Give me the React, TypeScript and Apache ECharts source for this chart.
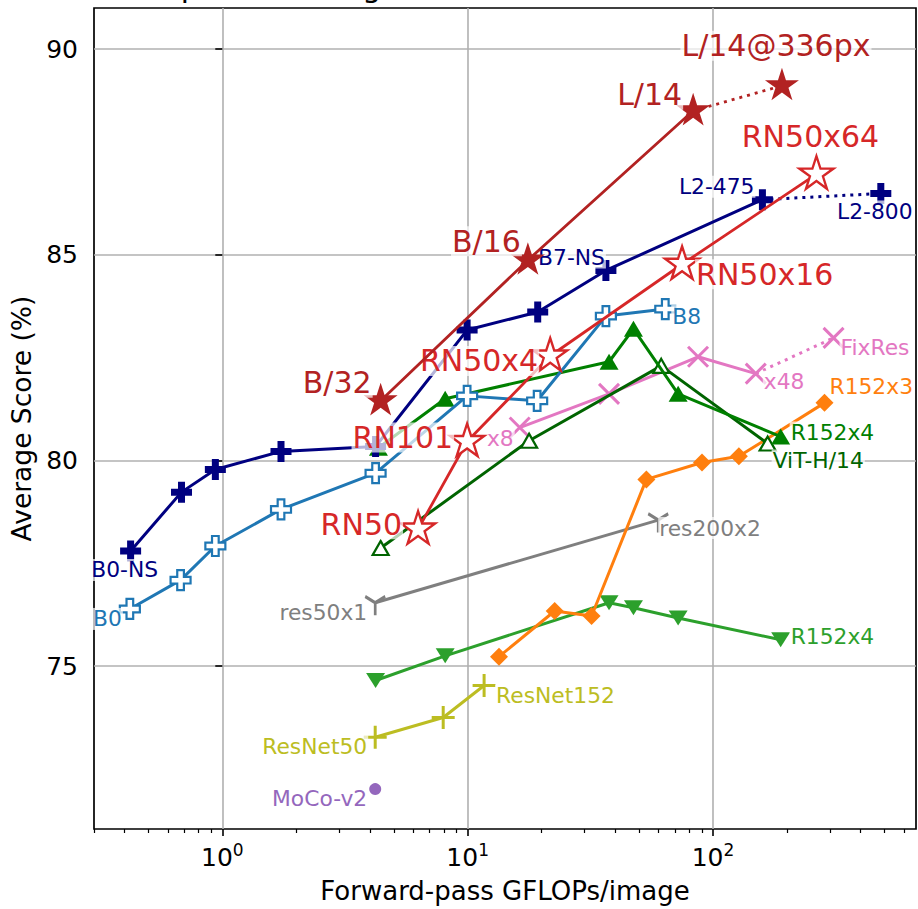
import React, { useEffect, useRef } from 'react';
import * as echarts from 'echarts';

const FONT = "'DejaVu Sans', 'Noto Sans', sans-serif";
const SMALL = 21.8;

// ---------------- data ----------------
// CLIP-ViT
const clipVitNames = ['B/32', 'B/16', 'L/14'];
const clipVitFlops = [4.42, 17.6, 83.0];
const clipVitScore = [81.45, 84.87, 88.5];
const clipVit336Names = ['L/14@336px'];
const clipVit336Flops = [191];
const clipVit336Score = [89.11];

// CLIP-ResNet
const clipRnNames = ['RN50', 'RN101', 'RN50x4', 'RN50x16', 'RN50x64'];
const clipRnFlops = [6.28, 9.95, 21.7, 74.8, 264];
const clipRnScore = [78.33, 80.46, 82.54, 84.77, 86.96];

// EfficientNet NoisyStudent
const effNsNames = ['B0-NS', '', '', '', '', '', '', 'B7-NS', 'L2-475'];
const effNsFlops = [0.423, 0.682, 0.937, 1.735, 4.215, 9.95, 19.3, 36.6, 159];
const effNsScore = [77.8, 79.23, 79.78, 80.22, 80.34, 83.17, 83.61, 84.62, 86.34];
const effNs800Names = ['L2-800'];
const effNs800Flops = [483];
const effNs800Score = [86.49];

// EfficientNet
const effNames = ['B0', '', '', '', '', '', '', '', 'B8'];
const effFlops = [0.42, 0.676, 0.937, 1.735, 4.215, 9.95, 19.2, 36.6, 63.9];
const effScore = [76.39, 77.09, 77.92, 78.81, 79.69, 81.57, 81.45, 83.51, 83.68];

// Instagram-pretrained
const igNames = ['x8', '', '', 'x48'];
const igFlops = [16.3, 37.7, 86.9, 149.4];
const igScore = [80.8, 81.62, 82.52, 82.11];
const fixResNames = ['FixRes'];
const fixResFlops = [310];
const fixResScore = [82.98];

// BiT-M
const bitMNames = ['', '', '', '', '', 'R152x4'];
const bitMFlops = [4.33, 8.1, 37.7, 47.4, 72.1, 188.7];
const bitMScore = [80.31, 81.5, 82.4, 83.2, 81.62, 80.58];

// ViT (ImageNet-21k)
const vitNames = ['', '', '', 'ViT-H/14'];
const vitFlops = [4.42, 17.8, 61.5, 167];
const vitScore = [77.87, 80.48, 82.3, 80.41];

// BiT-S
const bitSNames = ['', '', '', '', '', 'R152x4'];
const bitSFlops = [4.215, 8.1, 37.7, 47.4, 72.1, 188.7];
const bitSScore = [74.65, 75.25, 76.54, 76.42, 76.17, 75.64];

// SimCLRv2
const simclrNames = ['', '', '', '', '', '', 'R152x3'];
const simclrFlops = [13.42, 22.64, 32.0, 53.5, 90.2, 127.5, 284.7];
const simclrScore = [75.23, 76.34, 76.22, 79.54, 79.95, 80.1, 81.4];

// BYOL
const byolNames = ['res50x1', 'res200x2'];
const byolFlops = [4.2, 59.8];
const byolScore = [76.54, 78.55];

// ResNet
const resnetNames = ['ResNet50', '', 'ResNet152'];
const resnetFlops = [4.2, 7.95, 11.67];
const resnetScore = [73.27, 73.75, 74.53];

// MoCo
const mocoNames = ['MoCo-v2'];
const mocoFlops = [4.2];
const mocoScore = [72.01];

// axes
const xMin = 0.3;
const xMax = 672;
const yMin = 71.04;
const yMax = 91.0;
const xMajorTicks = [1, 10, 100];
const xMinorTicks = [0.3, 0.4, 0.5, 0.6, 0.7, 0.8, 0.9, 2, 3, 4, 5, 6, 7, 8, 9, 20, 30, 40, 50, 60, 70, 80, 90, 200, 300, 400, 500, 600];
const yTicks = [75, 80, 85, 90];
const titleText = 'Linear probe average over 12 datasets';

// ---------------- label placement (align, dx, dy) ----------------
const labelPos: Record<string, [string, number, number]> = {
  'clipvit:B/32': ['right', -8, -18],
  'clipvit:B/16': ['right', -6, -19],
  'clipvit:L/14': ['right', -10, -16],
  'clipvit336:L/14@336px': ['center', -6, -40],
  'cliprn:RN50': ['right', -15, -5],
  'cliprn:RN101': ['right', -13, -4],
  'cliprn:RN50x4': ['right', -11, 5],
  'cliprn:RN50x16': ['left', 13, 10],
  'cliprn:RN50x64': ['center', -6, -38],
  'effns:B0-NS': ['center', -6, 19],
  'effns:B7-NS': ['right', 0, -13],
  'effns:L2-475': ['right', -7, -13],
  'effns800:L2-800': ['center', -6, 18],
  'eff:B0': ['right', -7, 10],
  'eff:B8': ['left', 6, 7],
  'ig:x8': ['right', -5, 11],
  'ig:x48': ['left', 7, 8],
  'fixres:FixRes': ['left', 6, 10],
  'bitm:R152x4': ['left', 9, -4],
  'vit:ViT-H/14': ['left', 4, 17],
  'bits:R152x4': ['left', 9, -3],
  'simclr:R152x3': ['left', 4, -16],
  'byol:res50x1': ['right', -7, 10],
  'byol:res200x2': ['left', 0, 8],
  'resnet:ResNet50': ['right', -7, 9],
  'resnet:ResNet152': ['left', 11, 10],
  'moco:MoCo-v2': ['right', -7, 9],
};

// ---------------- marker shapes ----------------
const STAR = 'path://M0,100 M0,-100 L22.45,-30.9 L95.11,-30.9 L36.33,11.8 L58.78,80.9 L0,38.2 L-58.78,80.9 L-36.33,11.8 L-95.11,-30.9 L-22.45,-30.9 Z';
const PLUS_FILLED = 'path://M-1,-3 L1,-3 L1,-1 L3,-1 L3,1 L1,1 L1,3 L-1,3 L-1,1 L-3,1 L-3,-1 L-1,-1 Z';
const TRI_DOWN = 'path://M-1,-1 L1,-1 L0,1 Z';
const XMARK = 'path://M-1,-1 L1,1 M-1,1 L1,-1';
const PLUS = 'path://M0,-1 L0,1 M-1,0 L1,0';
const TRI_Y = 'path://M0,-1 M0,0 L0,1 M0,0 L0.8,-0.5 M0,0 L-0.8,-0.5';

interface Cfg {
  id: string;
  names: string[];
  xs: number[];
  ys: number[];
  color: string;
  textColor?: string;
  fontSize: number;
  symbol: string;
  symbolSize: number | number[];
  open?: boolean;
  strokeOnly?: boolean;
  markerWidth?: number;
  lineWidth?: number;
  dotted?: boolean;
  hideFirst?: boolean;
  z: number;
}

function buildSeries(c: Cfg) {
  const data = c.xs.map((x, i) => {
    const d: any = { value: [x, c.ys[i]] };
    if (c.hideFirst && i === 0) d.symbol = 'none';
    const nm = c.names[i];
    if (nm) {
      const p = labelPos[c.id + ':' + nm];
      d.label = {
        show: true,
        formatter: nm,
        position: 'inside',
        align: p[0],
        verticalAlign: 'middle',
        offset: [p[1], p[2]],
        color: c.textColor || c.color,
        fontSize: c.fontSize,
        fontFamily: FONT,
        backgroundColor: 'rgba(255,255,255,0.7)',
        padding: [0, 1],
        textBorderWidth: 0,
      };
    }
    return d;
  });
  let itemStyle: any;
  if (c.open) itemStyle = { color: '#ffffff', borderColor: c.color, borderWidth: c.markerWidth ?? 2.2 };
  else if (c.strokeOnly) itemStyle = { color: c.color, borderColor: c.color, borderWidth: c.markerWidth ?? 3 };
  else itemStyle = { color: c.color, borderWidth: 0 };
  return {
    type: 'line',
    id: c.id + (c.dotted ? '-dot' : ''),
    data,
    symbol: c.symbol,
    symbolSize: c.symbolSize,
    showAllSymbol: true,
    itemStyle,
    lineStyle: {
      color: c.color,
      width: c.lineWidth ?? 3,
      type: c.dotted ? [3, 5] : 'solid',
    },
    label: { show: false },
    emphasis: { disabled: true },
    silent: true,
    z: c.z,
    clip: true,
  };
}

const series = [
  buildSeries({ id: 'moco', names: mocoNames, xs: mocoFlops, ys: mocoScore, color: '#9467bd', fontSize: SMALL, symbol: 'circle', symbolSize: 12, z: 2 }),
  buildSeries({ id: 'resnet', names: resnetNames, xs: resnetFlops, ys: resnetScore, color: '#bcbd22', fontSize: SMALL, symbol: PLUS, symbolSize: 23, strokeOnly: true, z: 3 }),
  buildSeries({ id: 'byol', names: byolNames, xs: byolFlops, ys: byolScore, color: '#7f7f7f', fontSize: SMALL, symbol: TRI_Y, symbolSize: [20, 25], strokeOnly: true, z: 4 }),
  buildSeries({ id: 'bits', names: bitSNames, xs: bitSFlops, ys: bitSScore, color: '#2ca02c', fontSize: SMALL, symbol: TRI_DOWN, symbolSize: [19, 15], z: 5 }),
  buildSeries({ id: 'simclr', names: simclrNames, xs: simclrFlops, ys: simclrScore, color: '#ff7f0e', fontSize: SMALL, symbol: 'diamond', symbolSize: 18, z: 6 }),
  buildSeries({ id: 'ig', names: igNames, xs: igFlops, ys: igScore, color: '#e377c2', fontSize: SMALL, symbol: XMARK, symbolSize: 20, strokeOnly: true, z: 7 }),
  buildSeries({ id: 'fixres', names: ['', fixResNames[0]], xs: [igFlops[3], fixResFlops[0]], ys: [igScore[3], fixResScore[0]], color: '#e377c2', fontSize: SMALL, symbol: XMARK, symbolSize: 20, strokeOnly: true, dotted: true, hideFirst: true, z: 7 }),
  buildSeries({ id: 'vit', names: vitNames, xs: vitFlops, ys: vitScore, color: '#006400', fontSize: SMALL, symbol: 'triangle', symbolSize: [16, 14], open: true, z: 8 }),
  buildSeries({ id: 'bitm', names: bitMNames, xs: bitMFlops, ys: bitMScore, color: '#008000', fontSize: SMALL, symbol: 'triangle', symbolSize: [19, 16], z: 9 }),
  buildSeries({ id: 'eff', names: effNames, xs: effFlops, ys: effScore, color: '#1f77b4', fontSize: SMALL, symbol: PLUS_FILLED, symbolSize: 20, open: true, markerWidth: 2.2, z: 10 }),
  buildSeries({ id: 'effns', names: effNsNames, xs: effNsFlops, ys: effNsScore, color: '#000080', fontSize: SMALL, symbol: PLUS_FILLED, symbolSize: 21, z: 11 }),
  buildSeries({ id: 'effns800', names: ['', effNs800Names[0]], xs: [effNsFlops[8], effNs800Flops[0]], ys: [effNsScore[8], effNs800Score[0]], color: '#000080', fontSize: SMALL, symbol: PLUS_FILLED, symbolSize: 21, dotted: true, hideFirst: true, z: 11 }),
  buildSeries({ id: 'cliprn', names: clipRnNames, xs: clipRnFlops, ys: clipRnScore, color: '#d62728', fontSize: 30, symbol: STAR, symbolSize: [34, 36], open: true, markerWidth: 2.4, lineWidth: 2.8, z: 12 }),
  buildSeries({ id: 'clipvit', names: clipVitNames, xs: clipVitFlops, ys: clipVitScore, color: '#b22222', fontSize: 30, symbol: STAR, symbolSize: [34, 36], lineWidth: 2.8, z: 13 }),
  buildSeries({ id: 'clipvit336', names: ['', clipVit336Names[0]], xs: [clipVitFlops[2], clipVit336Flops[0]], ys: [clipVitScore[2], clipVit336Score[0]], color: '#b22222', fontSize: 30, symbol: STAR, symbolSize: [34, 36], lineWidth: 2.8, dotted: true, hideFirst: true, z: 13 }),
];

const gridColor = '#b0b0b0';

const option: any = {
  animation: false,
  backgroundColor: '#ffffff',
  textStyle: { fontFamily: FONT },
  grid: {
    left: 90,
    right: 2,
    top: 8,
    bottom: 77,
    show: true,
    borderColor: '#000',
    borderWidth: 1.7,
    backgroundColor: 'transparent',
    containLabel: false,
  },
  xAxis: [
    {
      type: 'log',
      logBase: 10,
      min: xMin,
      max: xMax,
      show: false,
      position: 'bottom',
    },
    {
      type: 'value',
      min: Math.log10(xMin),
      max: Math.log10(xMax),
      position: 'bottom',
      name: 'Forward-pass GFLOPs/image',
      nameLocation: 'middle',
      nameGap: 49,
      nameTextStyle: { fontSize: 26, fontFamily: FONT, color: '#000' },
      axisLine: { show: false },
      axisTick: {
        show: true,
        length: 7,
        lineStyle: { color: '#000', width: 1.6 },
        customValues: xMajorTicks.map((v) => Math.log10(v)),
      },
      axisLabel: {
        show: true,
        margin: 12,
        customValues: xMajorTicks.map((v) => Math.log10(v)),
        formatter: (v: number) => `{b|10}{s|${Math.round(v)}}`,
        rich: {
          b: { fontSize: 25, fontFamily: FONT, color: '#000', lineHeight: 29, verticalAlign: 'bottom' },
          s: { fontSize: 17, fontFamily: FONT, color: '#000', lineHeight: 17, verticalAlign: 'top' },
        },
      },
      splitLine: { show: true, lineStyle: { color: gridColor, width: 1.6 } },
    },
    {
      type: 'value',
      min: Math.log10(xMin),
      max: Math.log10(xMax),
      position: 'bottom',
      axisLine: { show: false },
      axisTick: {
        show: true,
        length: 4,
        lineStyle: { color: '#000', width: 1.2 },
        customValues: xMinorTicks.map((v) => Math.log10(v)),
      },
      axisLabel: { show: false },
      splitLine: { show: false },
    },
  ],
  yAxis: {
    type: 'value',
    min: yMin,
    max: yMax,
    name: 'Average Score (%)',
    nameLocation: 'middle',
    nameGap: 59,
    nameTextStyle: { fontSize: 26.5, fontFamily: FONT, color: '#000' },
    axisLine: { show: false },
    axisTick: {
      show: true,
      length: 7,
      lineStyle: { color: '#000', width: 1.6 },
      customValues: yTicks,
    },
    axisLabel: {
      show: true,
      margin: 16,
      fontSize: 25,
      fontFamily: FONT,
      color: '#000',
      customValues: yTicks,
    },
    splitLine: { show: true, lineStyle: { color: gridColor, width: 1.6 } },
  },
  graphic: [
    {
      type: 'text',
      x: 78,
      y: -14,
      silent: true,
      style: {
        text: titleText,
        fontSize: 30,
        fontFamily: FONT,
        fill: '#000',
        align: 'left',
        verticalAlign: 'middle',
        textAlign: 'left',
        textVerticalAlign: 'middle',
      },
    },
  ],
  series,
};

export default function App() {
  const ref = useRef<HTMLDivElement>(null);
  useEffect(() => {
    if (!ref.current) return;
    const chart = echarts.init(ref.current, null, { renderer: 'svg' });
    chart.setOption(option);
    return () => chart.dispose();
  }, []);
  return (
    <div
      ref={ref}
      style={{ position: 'fixed', left: 0, top: 0, width: 918, height: 909, background: '#fff' }}
    />
  );
}
